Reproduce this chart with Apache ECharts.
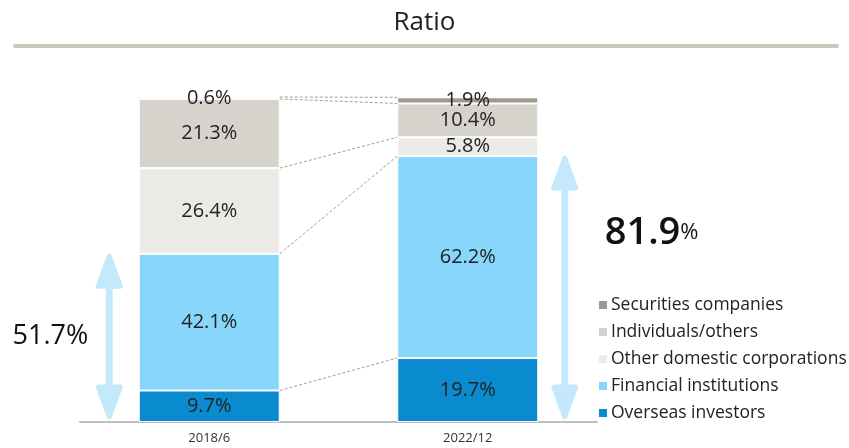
<!DOCTYPE html>
<html>
<head>
<meta charset="utf-8">
<script src="https://cdn.jsdelivr.net/npm/echarts@6/dist/echarts.min.js"></script>
<style>
html,body{margin:0;padding:0;background:#fff;}
#ratiochart{width:849px;height:448px;}
</style>
</head>
<body>
<div id="ratiochart"></div>
<script>
// periods on the x axis
var periods = ['2018/6', '2022/12']
// shareholder types, bottom of the stack first
var overseas = [9.7, 19.7]
var financial = [42.1, 62.2]
var otherCorp = [26.4, 5.8]
var individuals = [21.3, 10.4]
var securities = [0.6, 1.9]
// totals shown by the blue arrows (overseas + financial)
var arrowTotals = [51.7, 81.9]

var names = ['Overseas investors', 'Financial institutions', 'Other domestic corporations', 'Individuals/others', 'Securities companies']
var colors = ['#0a8bd0', '#88d6fb', '#ebeae6', '#d6d3cc', '#9d998c']
var stacks = [overseas, financial, otherCorp, individuals, securities]

var barW = 141
var font = '"Open Sans", "Noto Sans", sans-serif'

// cumulative boundaries for the dashed connectors
var bounds = []
var run0 = 0, run1 = 0
stacks.forEach(function(s){
    run0 += s[0]
    run1 += s[1]
    bounds.push([0, +run0.toFixed(1), +run1.toFixed(1)])
})

var chart = echarts.init(document.getElementById('ratiochart'))

var series = stacks.map(function(s, i){
    return {
        name: names[i],
        type: 'bar',
        stack: 'all',
        barWidth: barW,
        data: s,
        itemStyle: {color: colors[i], borderColor: '#fff', borderWidth: 1},
        label: {
            show: true,
            position: 'inside',
            formatter: '{c}%',
            fontFamily: font,
            fontSize: 20,
            color: '#222'
        }
    }
})

// dashed connectors between bars
series.push({
    type: 'custom',
    silent: true,
    data: bounds,
    encode: {x: 0, y: [1, 2]},
    renderItem: function(params, api){
        var p1 = api.coord([0, api.value(1)])
        var p2 = api.coord([1, api.value(2)])
        return {
            type: 'line',
            shape: {x1: p1[0] + barW / 2, y1: p1[1], x2: p2[0] - barW / 2, y2: p2[1]},
            style: {stroke: '#a29d90', lineWidth: 1, lineDash: [3, 2]}
        }
    }
})

// double arrows with the totals
series.push({
    type: 'custom',
    silent: true,
    data: arrowTotals.map(function(v, i){ return [i, v] }),
    encode: {x: 0, y: 1},
    renderItem: function(params, api){
        var i = params.dataIndex
        var top = api.coord([i, api.value(1)])
        var bot = api.coord([i, 0])
        var x = top[0] + (i == 0 ? -100 : 97)
        var y1 = top[1] + 2
        var y2 = bot[1] - 5
        var col = '#c4e9fd'
        var txt
        if(i == 0){
            txt = {
                type: 'text',
                style: {
                    x: x - 21, y: (y1 + y2) / 2,
                    text: api.value(1).toFixed(1) + '%',
                    fill: '#111', font: '27px ' + font,
                    align: 'right', verticalAlign: 'middle'
                }
            }
        }else{
            txt = {
                type: 'text',
                style: {
                    x: x + 40, y: 252,
                    text: '{a|' + api.value(1).toFixed(1) + '}{b|%}',
                    rich: {
                        a: {fontFamily: font, fontSize: 38, fill: '#111', fontWeight: 600},
                        b: {fontFamily: font, fontSize: 22, fill: '#111'}
                    },
                    align: 'left', verticalAlign: 'bottom'
                }
            }
        }
        return {
            type: 'group',
            children: [
                {type: 'line', shape: {x1: x, y1: y1 + 20, x2: x, y2: y2 - 20},
                    style: {stroke: col, lineWidth: 7}},
                {type: 'polygon', shape: {points: [[x, y1], [x - 11, y1 + 30], [x + 11, y1 + 30]]},
                    style: {fill: col, stroke: col, lineWidth: 5, lineJoin: 'round'}},
                {type: 'polygon', shape: {points: [[x, y2], [x - 11, y2 - 30], [x + 11, y2 - 30]]},
                    style: {fill: col, stroke: col, lineWidth: 5, lineJoin: 'round'}},
                txt
            ]
        }
    }
})

chart.setOption({
    animation: false,
    title: {
        text: 'Ratio',
        left: 'center',
        top: 5,
        textStyle: {fontFamily: font, fontSize: 26, fontWeight: 'normal', color: '#222'}
    },
    graphic: [{
        type: 'line',
        shape: {x1: 15, y1: 46, x2: 837, y2: 46},
        style: {stroke: '#c9c6bc', lineWidth: 4, lineCap: 'round'}
    }],
    legend: {
        orient: 'vertical',
        left: 592,
        top: 291,
        itemWidth: 10,
        itemHeight: 10,
        itemGap: 9,
        icon: 'rect',
        data: names.slice().reverse(),
        textStyle: {fontFamily: font, fontSize: 17.5, color: '#222', padding: [0, 0, 0, -2]}
    },
    grid: {left: 80, right: 252, top: 97, bottom: 26},
    xAxis: {
        type: 'category',
        data: periods,
        axisLine: {lineStyle: {color: '#bdbdbd', width: 2}},
        axisTick: {show: false},
        axisLabel: {fontFamily: font, fontSize: 13, color: '#333', margin: 10}
    },
    yAxis: {
        type: 'value',
        min: 0,
        max: 100.1,
        show: false,
        splitLine: {show: false}
    },
    series: series
})
</script>
</body>
</html>
